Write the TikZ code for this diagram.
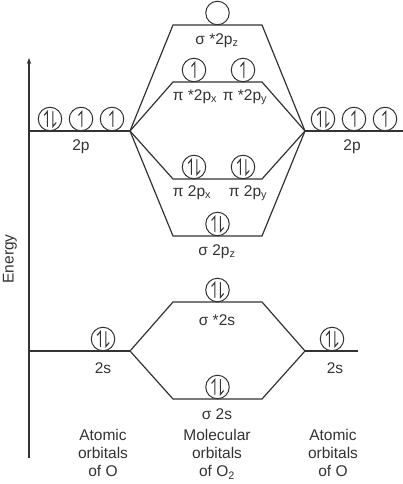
\documentclass[tikz,border=0pt]{standalone}
\usepackage{fontspec}
\setmainfont{Liberation Sans}
\usetikzlibrary{arrows.meta}
\definecolor{ink}{HTML}{333333}
\begin{document}
\begin{tikzpicture}[x=1pt,y=-1pt,
  lvl/.style={draw=ink,line width=1.2pt},
  orb/.style={circle,draw=ink,line width=1pt,minimum size=23.5pt,inner sep=0pt},
  elec/.style={draw=ink,line width=1.1pt,line cap=round,line join=miter},
  lab/.style={text=ink,font=\fontsize{15.5}{18}\selectfont,inner sep=0pt,align=center},
  ]
\useasboundingbox (0,0) rectangle (403,484);
% energy axis
\coordinate (ax0) at (29,458);
\coordinate (ax1) at (29,58);
\draw[draw=ink,line width=1.2pt,-{Stealth[length=6pt,width=4.5pt]}] (ax0) -- (ax1);
\node[lab,rotate=90] (energy) at (10,259) {Energy};
% level coordinates
\coordinate (L2pa) at (29,131);  \coordinate (L2p) at (130,131);
\coordinate (R2p) at (305,131);  \coordinate (R2pb) at (403,131);
\coordinate (L2sa) at (29,351);  \coordinate (L2s) at (130,351);
\coordinate (R2s) at (305,351);  \coordinate (R2sb) at (358,351);
\coordinate (szsL) at (173,25);  \coordinate (szsR) at (262,25);
\coordinate (pisL) at (173,82);  \coordinate (pisR) at (262,82);
\coordinate (piL) at (173,179);  \coordinate (piR) at (262,179);
\coordinate (szL) at (173,236);  \coordinate (szR) at (262,236);
\coordinate (sssL) at (173,302); \coordinate (sssR) at (262,302);
\coordinate (ssL) at (173,399);  \coordinate (ssR) at (262,399);
% levels and connectors
\draw[lvl] (L2pa) -- (L2p);
\draw[lvl] (R2p) -- (R2pb);
\draw[lvl] (L2sa) -- (L2s);
\draw[lvl] (R2s) -- (R2sb);
\draw[lvl] (L2p) -- (szsL) -- (szsR) -- (R2p);
\draw[lvl] (L2p) -- (pisL) -- (pisR) -- (R2p);
\draw[lvl] (L2p) -- (piL) -- (piR) -- (R2p);
\draw[lvl] (L2p) -- (szL) -- (szR) -- (R2p);
\draw[lvl] (L2s) -- (sssL) -- (sssR) -- (R2s);
\draw[lvl] (L2s) -- (ssL) -- (ssR) -- (R2s);
% orbital circles
\node[orb] (a1) at (50,119) {};
\node[orb] (a2) at (81,119) {};
\node[orb] (a3) at (112,119) {};
\node[orb] (b1) at (323,119) {};
\node[orb] (b2) at (354,119) {};
\node[orb] (b3) at (385,119) {};
\node[orb] (c1) at (217.5,13) {};
\node[orb] (d1) at (194,70) {};
\node[orb] (d2) at (243,70) {};
\node[orb] (e1) at (194,167) {};
\node[orb] (e2) at (243,167) {};
\node[orb] (f1) at (217.5,224) {};
\node[orb] (g1) at (217.5,290) {};
\node[orb] (h1) at (103,339) {};
\node[orb] (h2) at (332,339) {};
\node[orb] (k1) at (217.5,387) {};
% electrons
\newcommand\eup[2]{\draw[elec] (#1.center) ++(#2,7.5) -- ++(0,-15) -- ++(-3.2,3.8);}
\newcommand\edn[2]{\draw[elec] (#1.center) ++(#2,-7.5) -- ++(0,15) -- ++(3.2,-3.8);}
\newcommand\epair[1]{\eup{#1}{-2.6}\edn{#1}{2.9}}
\epair{a1} \eup{a2}{0.8} \eup{a3}{0.8}
\epair{b1} \eup{b2}{0.8} \eup{b3}{0.8}
\eup{d1}{0.8} \eup{d2}{0.8}
\epair{e1} \epair{e2}
\epair{f1} \epair{g1} \epair{h1} \epair{h2} \epair{k1}
% labels
\node[lab] (l2p) at (81,147) {2p};
\node[lab] (r2p) at (352,147) {2p};
\node[lab] (tszs) at (217,41) {σ *2p\textsubscript{z}};
\node[lab] (tpisx) at (195,97) {π *2p\textsubscript{x}};
\node[lab] (tpisy) at (245,97) {π *2p\textsubscript{y}};
\node[lab] (tpix) at (192,193) {π 2p\textsubscript{x}};
\node[lab] (tpiy) at (248,193) {π 2p\textsubscript{y}};
\node[lab] (tsz) at (217,252) {σ 2p\textsubscript{z}};
\node[lab] (tsss) at (217,320) {σ *2s};
\node[lab] (tss) at (217,414) {σ 2s};
\node[lab] (l2s) at (103,368) {2s};
\node[lab] (r2s) at (335,368) {2s};
\node[lab,anchor=north] (lao) at (103,429) {Atomic\\orbitals\\of O};
\node[lab,anchor=north] (mo) at (217,429) {Molecular\\orbitals\\of O\textsubscript{2}};
\node[lab,anchor=north] (rao) at (333,429) {Atomic\\orbitals\\of O};
\end{tikzpicture}
\end{document}
